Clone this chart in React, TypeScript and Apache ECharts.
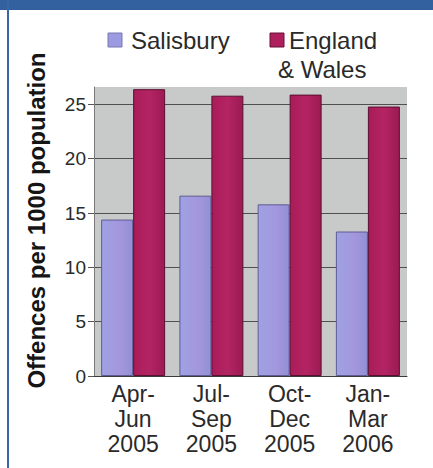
import React, { useEffect, useRef } from "react";
import * as echarts from "echarts";

// Quarterly offence rates, per 1000 population
const categories = ["Apr-\nJun\n2005", "Jul-\nSep\n2005", "Oct-\nDec\n2005", "Jan-\nMar\n2006"];
const salisbury = [14.4, 16.6, 15.8, 13.3];
const englandWales = [26.4, 25.8, 25.9, 24.8];
const yTicks = [0, 5, 10, 15, 20, 25];
const seriesNames = ["Salisbury", "England & Wales"];

const FONT = "'Liberation Sans', Arial, Helvetica, sans-serif";
const SALISBURY_COLOR = "#9c9ae0";
const ENGLAND_COLOR = "#ae1f5e";
const TEXT_COLOR = "#2a2a2a";

export default function App() {
  const ref = useRef<HTMLDivElement>(null);

  useEffect(() => {
    if (!ref.current) return;
    const chart = echarts.init(ref.current, undefined, { renderer: "svg" });

    const option = {
      animation: false,
      backgroundColor: "#ffffff",
      textStyle: { fontFamily: FONT },
      grid: {
        left: 94,
        right: 26,
        top: 87,
        bottom: 92,
        show: true,
        backgroundColor: "#c8cac9",
        borderWidth: 0,
      },
      xAxis: {
        type: "category",
        data: categories,
        axisLine: { show: true, lineStyle: { color: "#3a3a3a", width: 1 } },
        axisTick: { show: false },
        axisLabel: {
          interval: 0,
          fontFamily: FONT,
          fontSize: 23,
          lineHeight: 25,
          color: TEXT_COLOR,
          margin: 5,
        },
      },
      yAxis: {
        type: "value",
        min: 0,
        max: 26.6,
        interval: 5,
        name: "Offences per 1000 population",
        nameLocation: "middle",
        nameGap: 46,
        nameTextStyle: {
          fontFamily: FONT,
          fontWeight: "bold",
          fontSize: 24,
          color: "#151515",
          padding: [0, 0, 0, 22],
        },
        axisLine: { show: true, lineStyle: { color: "#7a7a7a", width: 1 } },
        axisTick: {
          show: true,
          length: 6,
          customValues: yTicks,
          lineStyle: { color: "#555555" },
        },
        axisLabel: {
          customValues: yTicks,
          fontFamily: FONT,
          fontSize: 19,
          color: TEXT_COLOR,
          margin: 8,
        },
        splitLine: {
          show: true,
          lineStyle: {
            color: ["#505050", "#505050", "#505050", "#505050", "#505050", "#505050", "rgba(0,0,0,0)"],
            width: 1,
          },
        },
      },
      series: [
        {
          name: seriesNames[0],
          type: "bar",
          data: salisbury,
          barWidth: 32,
          barGap: "0%",
          itemStyle: {
            color: new echarts.graphic.LinearGradient(0, 0, 1, 0, [
              { offset: 0, color: "#9ea2e4" },
              { offset: 0.6, color: "#a496dc" },
              { offset: 1, color: "#9190d6" },
            ]),
            borderColor: "#5e5c92",
            borderWidth: 1,
          },
        },
        {
          name: seriesNames[1],
          type: "bar",
          data: englandWales,
          barWidth: 32,
          barGap: "0%",
          itemStyle: {
            color: new echarts.graphic.LinearGradient(0, 0, 1, 0, [
              { offset: 0, color: "#a81c58" },
              { offset: 0.5, color: "#b42464" },
              { offset: 1, color: "#9c1a52" },
            ]),
            borderColor: "#5c0f30",
            borderWidth: 1,
          },
        },
      ],
      graphic: [
        // frame
        { type: "rect", shape: { x: 0, y: 0, width: 433, height: 10 }, style: { fill: "#33609f" }, silent: true },
        { type: "rect", shape: { x: 7, y: 0, width: 2, height: 468 }, style: { fill: "#3966a6" }, silent: true },
        // legend
        {
          type: "rect",
          shape: { x: 108, y: 33, width: 14, height: 14 },
          style: { fill: SALISBURY_COLOR, stroke: "#7a78b0", lineWidth: 1 },
        },
        {
          type: "text",
          x: 131,
          y: 40,
          style: { text: seriesNames[0], font: `24px ${FONT}`, fill: TEXT_COLOR, verticalAlign: "middle", align: "left" },
        },
        {
          type: "rect",
          shape: { x: 270, y: 33, width: 14, height: 14 },
          style: { fill: ENGLAND_COLOR, stroke: "#6a1236", lineWidth: 1 },
        },
        {
          type: "text",
          x: 289,
          y: 40,
          style: { text: "England", font: `24px ${FONT}`, fill: TEXT_COLOR, verticalAlign: "middle", align: "left" },
        },
        {
          type: "text",
          x: 278,
          y: 69,
          style: { text: "& Wales", font: `24px ${FONT}`, fill: TEXT_COLOR, verticalAlign: "middle", align: "left" },
        },
      ],
    };

    chart.setOption(option);
    return () => chart.dispose();
  }, []);

  return (
    <div
      ref={ref}
      style={{ position: "fixed", left: 0, top: 0, width: 433, height: 468 }}
    />
  );
}
